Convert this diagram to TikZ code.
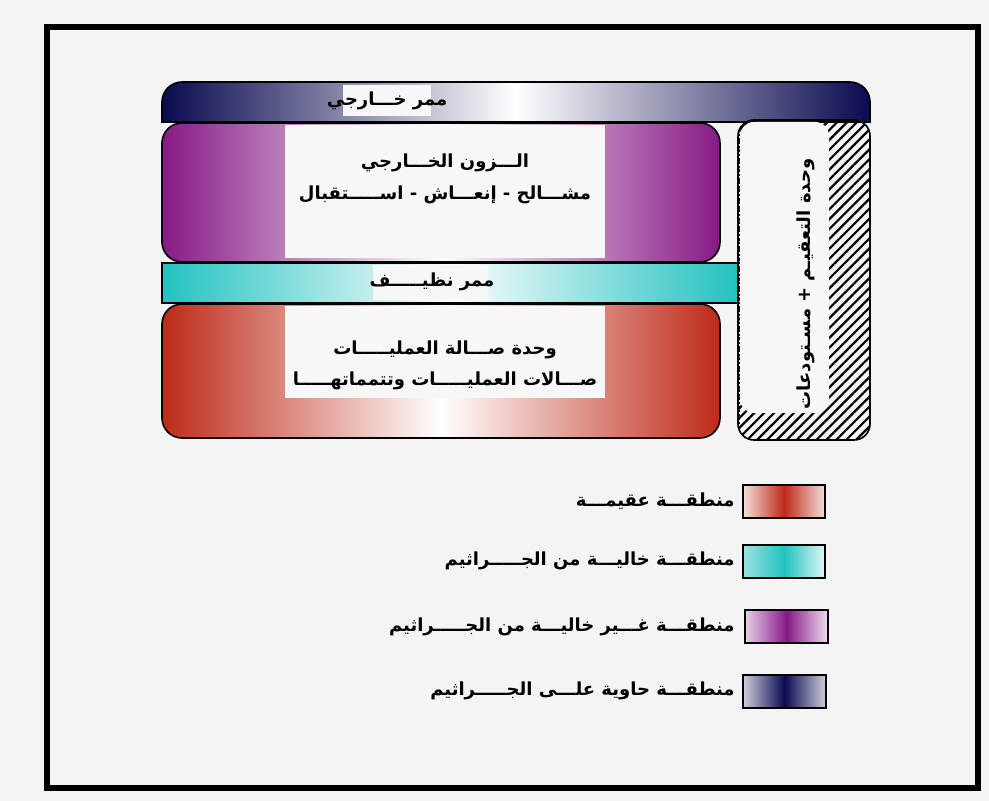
\documentclass[tikz,border=0pt]{standalone}
\usepackage{fontspec}
\newfontfamily\arabicfont[Script=Arabic]{DejaVu Sans}
\TeXXeTstate=1
\usepackage{xcolor}
\usetikzlibrary{patterns.meta}

\definecolor{pagegray}{HTML}{F4F4F4}
\definecolor{patchwhite}{HTML}{F7F7F7}
\definecolor{navyzone}{HTML}{0A0A50}
\definecolor{purplezone}{HTML}{861A86}
\definecolor{cyanzone}{HTML}{22C2C0}
\definecolor{redzone}{HTML}{BE2A18}

\tikzset{
  zone text/.style={font=\arabicfont\bfseries\fontsize{9}{12}\selectfont, inner sep=0pt},
  text patch/.style={fill=patchwhite, draw=none},
  swatch box/.style={draw=black, line width=1.3pt},
}

\begin{document}
\begin{tikzpicture}[x=0.5pt,y=-0.5pt]
		\useasboundingbox[fill=pagegray] (0,0) rectangle (989,801);
		\draw[line width=3pt] (47,27) rectangle (978,788);
		% outer corridor
		\shadedraw[left color=navyzone, right color=navyzone, middle color=white, line width=0.8pt]
			(162,122) -- (162,102) arc[start angle=180,end angle=270,radius=20] -- (850,82)
			arc[start angle=270,end angle=360,radius=20] -- (870,122) -- cycle;
		\fill[text patch] (343,85) rectangle (431,116);
		\node[zone text] (outer) at (387,101) {\beginR ممر خـــارجي\endR};
		% external zone
		\shadedraw[left color=purplezone, right color=purplezone, middle color=white, rounded corners=10pt, line width=0.8pt]
			(162,123) rectangle (720,262);
		\fill[text patch] (285,125) rectangle (605,258);
		\node[zone text] (extA) at (445,163) {\beginR الـــزون الخـــارجي\endR};
		\node[zone text] (extB) at (445,195) {\beginR مشـــالح - إنعـــاش - اســـــتقبال\endR};
		% clean corridor
		\shadedraw[left color=cyanzone, right color=cyanzone, middle color=white, line width=0.8pt]
			(162,263) rectangle (738,303);
		\fill[text patch] (373,265) rectangle (488,300);
		\node[zone text] (clean) at (432,282) {\beginR ممر نظيـــــف\endR};
		% operating unit
		\shadedraw[left color=redzone, right color=redzone, middle color=white, rounded corners=10pt, line width=0.8pt]
			(162,304) rectangle (720,438);
		\fill[text patch] (285,306) rectangle (605,398);
		\node[zone text] (opA) at (445,350) {\beginR وحدة صـــالة العمليـــــات\endR};
		\node[zone text] (opB) at (445,381) {\beginR صـــالات العمليـــــات وتتمماتهـــــا\endR};
		% sterilisation unit
		\draw[pattern={Lines[angle=45,distance=3.5pt,line width=1.1pt]}, rounded corners=8pt, line width=0.8pt]
			(738,120) rectangle (870,440);
		\fill[patchwhite, rounded corners=7pt] (740,122) rectangle (829,413);
		\draw[line width=1pt, densely dotted] (739,130) -- (739,430);
		\node[zone text, rotate=90] (steril) at (806,284) {\beginR وحدة التعقيـم + مسـتودعات\endR};
		% legend
		\shadedraw[swatch box, left color=redzone!15, right color=redzone!15, middle color=redzone] (743,485) rectangle (825,518);
		\node[zone text, anchor=east] (lgRed) at (735,501) {\beginR منطقـــة عقيمـــة\endR};
		\shadedraw[swatch box, left color=cyanzone!45, right color=cyanzone!15, middle color=cyanzone] (743,545) rectangle (825,578);
		\node[zone text, anchor=east] (lgCyan) at (735,561) {\beginR منطقـــة خاليـــة من الجـــــراثيم\endR};
		\shadedraw[swatch box, left color=purplezone!20, right color=purplezone!15, middle color=purplezone] (745,610) rectangle (828,643);
		\node[zone text, anchor=east] (lgPurple) at (735,627) {\beginR منطقـــة غـــير خاليـــة من الجـــــراثيم\endR};
		\shadedraw[swatch box, left color=navyzone!20, right color=navyzone!20, middle color=navyzone] (743,675) rectangle (826,708);
		\node[zone text, anchor=east] (lgNavy) at (735,691) {\beginR منطقـــة حاوية علـــى الجـــــراثيم\endR};
	\end{tikzpicture}
\end{document}
